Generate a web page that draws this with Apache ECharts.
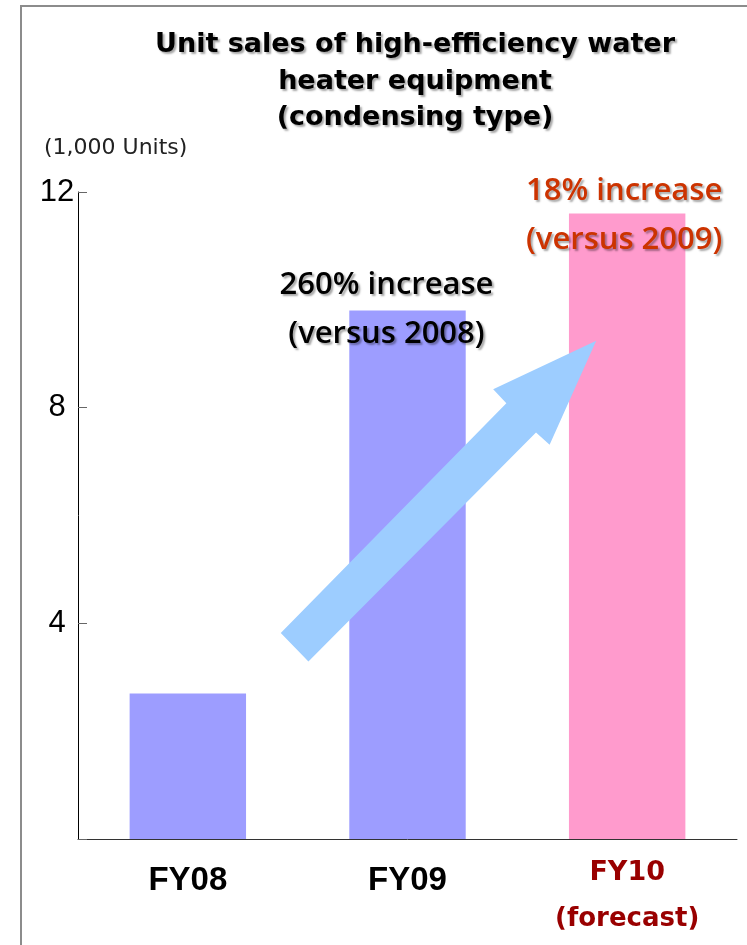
<!DOCTYPE html>
<html>
<head>
<meta charset="utf-8">
<style>
  html, body { margin: 0; padding: 0; background: #ffffff; }
  #chart { width: 747px; height: 945px; }
</style>
<script src="https://cdn.jsdelivr.net/npm/echarts@6/dist/echarts.min.js"></script>
</head>
<body>
<div id="chart"></div>
<script>
// Fiscal years and unit sales (thousands of units)
const categories = ['FY08', 'FY09', 'FY10'];
const unitSales = [2.7, 9.8, 11.6];
const growthNotes = ['', '260% increase\n(versus 2008)', '18% increase\n(versus 2009)'];
const yTicks = { min: 0, max: 12, interval: 4 };
const titleLines = ['Unit sales of high-efficiency water', 'heater equipment', '(condensing type)'];
const unitLabel = '(1,000 Units)';

// Trend arrow outline in data space: [category position, value]
const arrowShape = [
  [0.423, 3.82], [1.45, 8.08], [1.39, 8.34], [1.859, 9.24],
  [1.647, 7.31], [1.585, 7.54], [0.549, 3.29]
];

const chart = echarts.init(document.getElementById('chart'));

const shadow = {
  textShadowColor: 'rgba(0,0,0,0.35)',
  textShadowBlur: 2,
  textShadowOffsetX: 2,
  textShadowOffsetY: 2
};

const noteStyles = [
  null,
  { color: '#000000', offset: [-21, 53], size: 31 },
  { color: '#cc3300', offset: [-3, 56], size: 31 }
];

const barColors = ['#9d9dff', '#9d9dff', '#ff9bcd'];

const seriesData = unitSales.map((v, i) => {
  const item = { value: v, itemStyle: { color: barColors[i] } };
  if (growthNotes[i]) {
    item.label = Object.assign({
      show: true,
      position: 'top',
      formatter: growthNotes[i],
      fontFamily: 'Open Sans',
      fontWeight: 600,
      fontSize: noteStyles[i].size,
      lineHeight: 49,
      align: 'center',
      color: noteStyles[i].color,
      offset: noteStyles[i].offset
    }, shadow);
  }
  return item;
});

chart.setOption({
  animation: false,
  grid: { left: 78, right: 10, top: 192, bottom: 106, containLabel: false },
  xAxis: {
    type: 'category',
    data: categories,
    axisLine: { lineStyle: { color: '#333333', width: 1 } },
    axisTick: { inside: true, length: 8, lineStyle: { color: '#555555' } },
    axisLabel: {
      margin: 11,
      verticalAlign: 'top',
      formatter: function (v) {
        if (v === 'FY10') return '{r|FY10}\n{f|(forecast)}';
        return '{b|' + v + '}';
      },
      rich: {
        b: { fontFamily: 'Liberation Sans', fontWeight: 'bold', fontSize: 33, lineHeight: 62, color: '#000000' },
        r: { fontFamily: 'DejaVu Sans', fontWeight: 'bold', fontSize: 27, lineHeight: 46, color: '#990000' },
        f: { fontFamily: 'DejaVu Sans', fontWeight: 'bold', fontSize: 26, lineHeight: 46, color: '#990000' }
      }
    }
  },
  yAxis: {
    type: 'value',
    min: yTicks.min,
    max: yTicks.max,
    interval: yTicks.interval,
    splitLine: { show: false },
    axisLine: { show: true, lineStyle: { color: '#000000', width: 1 } },
    axisTick: { show: true, inside: true, length: 9, lineStyle: { color: '#666666' } },
    axisLabel: {
      margin: 21,
      align: 'center',
      fontFamily: 'Liberation Sans',
      fontSize: 31,
      color: '#000000',
      padding: [12, 0, 0, 0],
      formatter: v => (v === 0 ? '' : String(v))
    }
  },
  series: [{
    type: 'bar',
    barWidth: '53%',
    data: seriesData
  }]
});

// Trend arrow placed through the axis scales
const catCenters = categories.map((c, i) => chart.convertToPixel({ xAxisIndex: 0 }, i));
const step = catCenters[1] - catCenters[0];
const arrowPoints = arrowShape.map(([cx, vy]) => [
  catCenters[0] + cx * step,
  chart.convertToPixel({ yAxisIndex: 0 }, vy)
]);

const titleFont = 'bold 27px "DejaVu Sans"';

chart.setOption({
  graphic: [
    {
      type: 'rect',
      silent: true,
      shape: { x: 21, y: 6, width: 900, height: 1100 },
      style: { fill: 'none', stroke: '#8c8c8c', lineWidth: 2 }
    },
    {
      type: 'polygon',
      silent: true,
      z: 10,
      shape: { points: arrowPoints },
      style: { fill: '#9dcdff' }
    },
    ...titleLines.map((t, i) => ({
      type: 'text',
      silent: true,
      x: 415,
      y: 45 + i * 36.5,
      style: Object.assign({
        text: t,
        font: titleFont,
        fill: '#000000',
        textAlign: 'center',
        textVerticalAlign: 'middle'
      }, shadow)
    })),
    {
      type: 'text',
      silent: true,
      x: 44,
      y: 148,
      style: {
        text: unitLabel,
        font: '22px "DejaVu Sans"',
        fill: '#222222',
        textAlign: 'left',
        textVerticalAlign: 'middle'
      }
    }
  ]
});
</script>
</body>
</html>
